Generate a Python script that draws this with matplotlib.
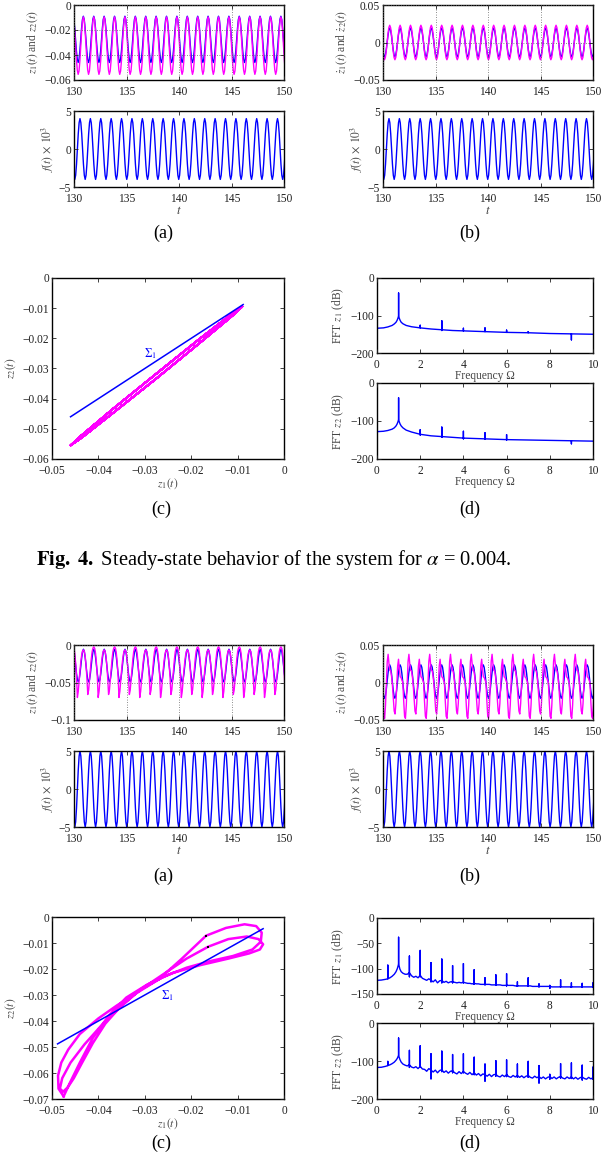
import numpy as np
import matplotlib
matplotlib.use('Agg')
import matplotlib.pyplot as plt
from matplotlib.ticker import FixedLocator, FixedFormatter

plt.rcParams['font.family'] = ['Liberation Serif', 'DejaVu Serif']
plt.rcParams['mathtext.fontset'] = 'stix'

# ---------------- data: time series (one period of samples) -------------
PERIOD = 0.99
T_RANGE = [130, 150]
T_TICKS = [130, 135, 140, 145, 150]

# Fig 4
f4_start = 129.58
f4_vals = [4.0, 3.46, 2.0, 0.0, -2.0, -3.46, -4.0, -3.46, -2.0, 0.0, 2.0, 3.46]
z1_4_start = 129.90
z1_4_vals = [-0.0090, -0.0115, -0.0183, -0.0275, -0.0368, -0.0435,
             -0.0460, -0.0435, -0.0368, -0.0275, -0.0183, -0.0115]
z2_4_vals = [-0.00951, -0.01219, -0.02031, -0.03170, -0.04330, -0.05200,
             -0.05549, -0.05281, -0.04469, -0.03330, -0.02170, -0.01300]
v_4_start = 129.65
v1_4_vals = [0.019, 0.01645, 0.0095, 0.0, -0.0095, -0.01645,
             -0.019, -0.01645, -0.0095, 0.0, 0.0095, 0.01645]
v2_4_vals = [0.023, 0.0199, 0.0115, 0.0, -0.0115, -0.0199,
             -0.023, -0.0199, -0.0115, 0.0, 0.0115, 0.0199]

# Fig 5
f5_start = 129.58
f5_vals = [5.0, 4.33, 2.5, 0.0, -2.5, -4.33, -5.0, -4.33, -2.5, 0.0, 2.5, 4.33]
z1_5_start = 129.91
z1_5_vals = [-0.0057, -0.0086, -0.0166, -0.0274, -0.0383, -0.0462,
             -0.0491, -0.0462, -0.0383, -0.0274, -0.0166, -0.0086]
z2_5_start = 129.91   # two forcing periods
z2_5_vals = [-0.0025, -0.0045, -0.0115, -0.0240, -0.0420, -0.0700,
             -0.0620, -0.0480, -0.0340, -0.0220, -0.0130, -0.0080,
             -0.0065, -0.0085, -0.0150, -0.0270, -0.0440, -0.0660,
             -0.0600, -0.0460, -0.0320, -0.0190, -0.0090, -0.0040]
v1_5_start = 129.65
v1_5_vals = [0.0235, 0.0204, 0.0123, 0.0012, -0.0099, -0.0180,
             -0.0210, -0.0180, -0.0099, 0.0012, 0.0123, 0.0204]
v2_5_start = 129.91
v2_5_vals = [0.000, -0.025, -0.045, -0.0478, -0.030, -0.002,
             0.028, 0.0376, 0.025, 0.0160, 0.0155, 0.0080,
             -0.004, -0.022, -0.038, -0.042, -0.028, -0.004,
             0.022, 0.031, 0.018, 0.0075, 0.0066, 0.003]

# Fig 5 (c) phase trajectory
z1_c5 = [-0.0475, -0.0486, -0.0487, -0.0480, -0.0465, -0.0440, -0.0400, -0.0360,
         -0.0320, -0.0270, -0.0220, -0.0168, -0.0125, -0.0085, -0.0060, -0.0048,
         -0.0050, -0.0068, -0.0110, -0.0160, -0.0210, -0.0260, -0.0310, -0.0350,
         -0.0385, -0.0412, -0.0435, -0.0453, -0.0466, -0.0476, -0.0483, -0.0478,
         -0.0460, -0.0430, -0.0395, -0.0355, -0.0310, -0.0260, -0.0210, -0.0163,
         -0.0120, -0.0080, -0.0055, -0.0045, -0.0052, -0.0075, -0.0120, -0.0180,
         -0.0240, -0.0295, -0.0340, -0.0378, -0.0412, -0.0440, -0.0462, -0.0475]
z2_c5 = [-0.0690, -0.0660, -0.0610, -0.0560, -0.0510, -0.0450, -0.0390, -0.0340,
         -0.0295, -0.0240, -0.0160, -0.0072, -0.0042, -0.0028, -0.0035, -0.0060,
         -0.0095, -0.0125, -0.0150, -0.0170, -0.0195, -0.0230, -0.0280, -0.0340,
         -0.0410, -0.0485, -0.0560, -0.0620, -0.0655, -0.0672, -0.0660, -0.0620,
         -0.0560, -0.0490, -0.0420, -0.0350, -0.0280, -0.0220, -0.0160, -0.0114,
         -0.0085, -0.0075, -0.0085, -0.0105, -0.0125, -0.0140, -0.0160, -0.0185,
         -0.0215, -0.0260, -0.0310, -0.0380, -0.0465, -0.0560, -0.0640, -0.0690]
dots_c5_z1 = [-0.0168, -0.0163]
dots_c5_z2 = [-0.0072, -0.0114]

sigma4_line = [-0.0460, -0.0088]
sigma5_line = [-0.0488, -0.0045]

# ---------------- data: FFT spectra ----------------
fft4_w = [0, 0.3, 0.5, 0.7, 0.8, 0.88, 0.93, 0.97, 1.0, 1.03, 1.07, 1.12, 1.2, 1.35,
          1.6, 2, 2.5, 3, 3.5, 4, 5, 6, 7, 8, 9, 10]
fft4_z1 = [-134, -133, -130.5, -126.5, -122.5, -118, -113, -107, -101, -107, -113, -118,
           -122, -126.5, -130, -133, -136, -138, -140, -141, -143, -145, -146, -148, -149, -150]
fft4_z1_spk_w = [0, 1, 2, 3, 4, 5, 6, 7, 9]
fft4_z1_spk_top = [-33, -40, -126, -114, -134, -133, -139, -143, -149]
fft4_z1_spk_bot = [-134, -101, -133, -140, -141, -143, -145, -146, -165]
fft4_z2 = [-128, -127, -125, -121.5, -118, -113, -108, -102, -96, -102, -108, -113,
           -118, -124, -129, -135, -139, -141, -143, -145, -147, -149, -150, -151, -152, -153]
fft4_z2_spk_w = [1, 2, 3, 4, 5, 6, 9]
fft4_z2_spk_top = [-39, -123, -116, -127, -131, -136, -152]
fft4_z2_spk_bot = [-96, -137, -143, -147, -148, -150, -160]

fft5_w_low = [0, 0.2, 0.4, 0.5, 0.6, 0.7, 0.8, 0.88, 0.94, 0.98, 1.0, 1.02, 1.06, 1.12, 1.2, 1.3]
fft5_z1_low = [-123, -122.5, -121, -120, -118, -115, -111, -106, -100, -94, -90, -94,
               -101, -106, -109, -111]
fft5_z2_low = [-117, -116.5, -114, -112, -110, -107, -103, -98, -93, -88, -85, -89,
               -96, -103, -108, -111]
fft5_w_hi_start, fft5_w_hi_step = 1.4, 0.1
fft5_z1_hi = [-111, -108, -114, -117, -115, -118,
              -113, -119, -121, -123, -120, -123, -126, -122, -128, -124,
              -123, -127, -125, -128, -126, -126, -127, -128, -127, -128,
              -127, -128, -129, -129, -130, -129, -130, -130, -131, -131,
              -131, -131, -131, -132, -132, -132, -132, -132, -133, -133,
              -133, -133, -133, -133, -134, -134, -134, -134, -134, -134,
              -134, -134, -135, -135, -135, -135, -135, -135, -135, -135,
              -135, -136, -136, -136, -136, -136, -136, -136, -136, -136,
              -136, -136, -136, -136, -136, -136, -136, -136, -136, -136,
              -136]
fft5_z2_hi = [-113, -110, -116, -118, -115, -120,
              -114, -121, -122, -127, -120, -124, -129, -124, -131, -125,
              -123, -130, -126, -132, -127, -126, -131, -134, -128, -133,
              -128, -132, -135, -130, -136, -131, -137, -133, -139, -134,
              -136, -140, -135, -141, -136, -135, -140, -142, -137, -141,
              -136, -141, -143, -138, -142, -138, -143, -139, -144, -140,
              -138, -143, -145, -140, -144, -141, -146, -142, -147, -143,
              -141, -146, -142, -147, -143, -141, -145, -147, -142, -146,
              -142, -147, -143, -148, -144, -142, -146, -148, -143, -147,
              -144]
fft5_z1_spk_w = [0, 0.5, 1.0, 1.5, 2.0, 2.5, 3.0, 3.5, 4.0, 4.5, 5.0, 5.5, 6.0, 6.5, 7.0,
                 7.5, 8.0, 8.5, 9.0, 9.5, 10.0]
fft5_z1_spk_top = [-30, -93, -38, -75, -64, -88, -81, -94, -90, -102, -118, -112, -110,
                   -126, -118, -130, -133, -122, -128, -129, -128]
fft5_z1_spk_bot = [-123, -120, -90, -116, -116, -126, -128, -128, -128, -131, -132, -133,
                   -134, -135, -135, -136, -139, -136, -137, -137, -136]
fft5_z2_spk_w = [0.5, 1.0, 1.5, 2.0, 2.5, 3.0, 3.5, 4.0, 4.5, 5.0, 5.5, 6.0, 6.5, 7.0,
                 7.5, 8.0, 8.5, 9.0, 9.5, 10.0]
fft5_z2_spk_top = [-101, -39.5, -72, -60, -81, -74, -83, -81, -90, -108, -99, -97, -108,
                   -101, -112, -135, -107, -105, -111, -116]
fft5_z2_spk_bot = [-112, -85, -117, -116, -147, -128, -131, -131, -136, -153, -140, -141,
                   -143, -143, -158, -148, -145, -146, -150, -148]

# ---------------- helpers ----------------
W, H = 605, 1162
fig = plt.figure(figsize=(W / 100, H / 100), dpi=100)

BLUE = '#0000ff'
MAG = '#ff00ff'
LBL = '#444444'
TICK_FS = 8.3
LAB_FS = 8.3


def ax_px(x0, x1, y0, y1):
    return fig.add_axes([x0 / W, 1 - y1 / H, (x1 - x0) / W, (y1 - y0) / H])


def periodic(start, vals, step, t_end=150.6):
    n = int(np.ceil((t_end - start) / step)) + 1
    reps = n // len(vals) + 1
    t = start + step * np.arange(n)
    return t, np.tile(np.asarray(vals, float), reps)[:n]


def fmt(v):
    s = ('%g' % v)
    return s.replace('-', '\u2212')


def style(ax, xlim, ylim, xt, yt, grid=False):
    ax.set_xlim(*xlim)
    ax.set_ylim(*ylim)
    ax.xaxis.set_major_locator(FixedLocator(xt))
    ax.xaxis.set_major_formatter(FixedFormatter([fmt(v) for v in xt]))
    ax.yaxis.set_major_locator(FixedLocator(yt))
    ax.yaxis.set_major_formatter(FixedFormatter([fmt(v) for v in yt]))
    ax.tick_params(direction='in', top=True, right=True, length=3, width=0.6,
                   labelsize=TICK_FS, colors='#222222')
    ax.tick_params(axis='x', pad=4.2)
    ax.tick_params(axis='y', pad=2)
    for s in ax.spines.values():
        s.set_linewidth(1.0)
    if grid:
        ax.grid(True, linestyle=(0, (1, 2)), color='#666666', linewidth=0.6)
    ax.set_axisbelow(False)


def fft_line(w, db, sw, stop, sbot):
    spikes = {round(a, 3): (b, c) for a, b, c in zip(sw, stop, sbot)}
    xs, ys = [], []
    for a, b in zip(w, db):
        xs.append(a)
        ys.append(b)
        k = round(a, 3)
        if k in spikes:
            tp, bt = spikes[k]
            xs += [a, a, a]
            ys += [tp, bt, b]
    return xs, ys


def panel_time(x0, x1, ytop, z_series, f_series, ylim_z, yt_z, ylab_z, ylim_f, yt_f):
    a1 = ax_px(x0, x1, ytop, ytop + 75)
    for (t, v, c) in z_series:
        a1.plot(t, v, color=c, lw=1.0)
    style(a1, T_RANGE, ylim_z, T_TICKS, yt_z, grid=True)
    a1.set_ylabel(ylab_z, fontsize=LAB_FS, color=LBL, labelpad=3)
    a2 = ax_px(x0, x1, ytop + 106, ytop + 182)
    t, v = f_series
    a2.plot(t, v, color=BLUE, lw=1.0)
    style(a2, T_RANGE, ylim_f, T_TICKS, yt_f)
    a2.set_ylabel(r'$f(t)\,\times\,10^3$', fontsize=LAB_FS, color=LBL, labelpad=3)
    a2.set_xlabel(r'$t$', fontsize=LAB_FS + 1, color=LBL, labelpad=0)
    return a1, a2


step12 = PERIOD / 12

# ================= Fig. 4 =================
t_f4, f4 = periodic(f4_start, f4_vals, step12)
t_z4, z1_4 = periodic(z1_4_start, z1_4_vals, step12)
_, z2_4 = periodic(z1_4_start, z2_4_vals, step12)
t_v4, v1_4 = periodic(v_4_start, v1_4_vals, step12)
_, v2_4 = periodic(v_4_start, v2_4_vals, step12)

panel_time(74, 284, 5, [(t_z4, z1_4, BLUE), (t_z4, z2_4, MAG)], (t_f4, f4),
           (-0.06, 0), [-0.06, -0.04, -0.02, 0], r'$z_1(t)$ and $z_2(t)$',
           (-5, 5), [-5, 0, 5])
panel_time(383, 593, 5, [(t_v4, v1_4, BLUE), (t_v4, v2_4, MAG)], (t_f4, f4),
           (-0.05, 0.05), [-0.05, 0, 0.05], r'$\dot{z}_1(t)$ and $\dot{z}_2(t)$',
           (-5, 5), [-5, 0, 5])

# (c) phase portrait
ac = ax_px(52, 284, 278, 459)
ac.plot(z1_4, z2_4, color=MAG, lw=1.3)
ac.plot(sigma4_line, sigma4_line, color=BLUE, lw=1.1)
ac.text(-0.0288, -0.0250, r'$\Sigma_1$', color=BLUE, fontsize=8.5, ha='center', va='center')
style(ac, (-0.05, 0), (-0.06, 0), [-0.05, -0.04, -0.03, -0.02, -0.01, 0],
      [-0.06, -0.05, -0.04, -0.03, -0.02, -0.01, 0])
ac.set_xlabel(r'$z_1(t)$', fontsize=LAB_FS, color=LBL, labelpad=0)
ac.set_ylabel(r'$z_2(t)$', fontsize=LAB_FS, color=LBL, labelpad=3)

# (d) FFT
ad1 = ax_px(377, 593, 278, 353)
xs, ys = fft_line(fft4_w, fft4_z1, fft4_z1_spk_w, fft4_z1_spk_top, fft4_z1_spk_bot)
ad1.plot(xs, ys, color=BLUE, lw=1.0)
style(ad1, (0, 10), (-200, 0), [0, 2, 4, 6, 8, 10], [-200, -100, 0])
ad1.set_ylabel(r'FFT $z_1$ (dB)', fontsize=LAB_FS, color=LBL, labelpad=3)
ad1.set_xlabel('Frequency \u03a9', fontsize=LAB_FS, color=LBL, labelpad=-0.5)

ad2 = ax_px(377, 593, 383, 459)
xs, ys = fft_line(fft4_w, fft4_z2, fft4_z2_spk_w, fft4_z2_spk_top, fft4_z2_spk_bot)
ad2.plot(xs, ys, color=BLUE, lw=1.0)
style(ad2, (0, 10), (-200, 0), [0, 2, 4, 6, 8, 10], [-200, -100, 0])
ad2.set_ylabel(r'FFT $z_2$ (dB)', fontsize=LAB_FS, color=LBL, labelpad=3)
ad2.set_xlabel('Frequency \u03a9', fontsize=LAB_FS, color=LBL, labelpad=-0.5)

for s, (x, y) in zip(['(a)', '(b)', '(c)', '(d)'],
                     [(163, 233), (470, 233), (161, 509), (470, 509)]):
    fig.text(x / W, 1 - y / H, s, fontsize=13, ha='center', va='center')

fig.text(36 / W, 1 - 560 / H,
         r'$\mathbf{Fig.\ 4.}$ Steady-state behavior of the system for $\alpha$ = 0.004.',
         fontsize=14.8, ha='left', va='center')

# ================= Fig. 5 =================
t_f5, f5 = periodic(f5_start, f5_vals, step12)
t_z15, z1_5 = periodic(z1_5_start, z1_5_vals, step12)
t_z25, z2_5 = periodic(z2_5_start, z2_5_vals, step12)
t_v15, v1_5 = periodic(v1_5_start, v1_5_vals, step12)
t_v25, v2_5 = periodic(v2_5_start, v2_5_vals, step12)

panel_time(74, 284, 645, [(t_z15, z1_5, BLUE), (t_z25, z2_5, MAG)], (t_f5, f5),
           (-0.1, 0), [-0.1, -0.05, 0], r'$z_1(t)$ and $z_2(t)$',
           (-5, 5), [-5, 0, 5])
panel_time(383, 593, 645, [(t_v15, v1_5, BLUE), (t_v25, v2_5, MAG)], (t_f5, f5),
           (-0.05, 0.05), [-0.05, 0, 0.05], r'$\dot{z}_1(t)$ and $\dot{z}_2(t)$',
           (-5, 5), [-5, 0, 5])

ac5 = ax_px(52, 284, 917, 1099)
ac5.plot(z1_c5, z2_c5, color=MAG, lw=1.8)
ac5.plot(sigma5_line, sigma5_line, color=BLUE, lw=1.1)
ac5.plot(dots_c5_z1, dots_c5_z2, 's', color='black', ms=1.5, mew=0)
ac5.text(-0.0252, -0.0303, r'$\Sigma_1$', color=BLUE, fontsize=8.5, ha='center', va='center')
style(ac5, (-0.05, 0), (-0.07, 0), [-0.05, -0.04, -0.03, -0.02, -0.01, 0],
      [-0.07, -0.06, -0.05, -0.04, -0.03, -0.02, -0.01, 0])
ac5.set_xlabel(r'$z_1(t)$', fontsize=LAB_FS, color=LBL, labelpad=0)
ac5.set_ylabel(r'$z_2(t)$', fontsize=LAB_FS, color=LBL, labelpad=3)

w_hi = np.round(fft5_w_hi_start + fft5_w_hi_step * np.arange(len(fft5_z1_hi)), 2)
w5 = list(fft5_w_low) + list(w_hi)

ad51 = ax_px(377, 593, 918, 994)
xs, ys = fft_line(w5, fft5_z1_low + fft5_z1_hi, fft5_z1_spk_w, fft5_z1_spk_top, fft5_z1_spk_bot)
ad51.plot(xs, ys, color=BLUE, lw=1.0)
style(ad51, (0, 10), (-150, 0), [0, 2, 4, 6, 8, 10], [-150, -100, -50, 0])
ad51.set_ylabel(r'FFT $z_1$ (dB)', fontsize=LAB_FS, color=LBL, labelpad=3)
ad51.set_xlabel('Frequency \u03a9', fontsize=LAB_FS, color=LBL, labelpad=-0.5)

ad52 = ax_px(377, 593, 1023, 1099)
xs, ys = fft_line(w5, fft5_z2_low + fft5_z2_hi, fft5_z2_spk_w, fft5_z2_spk_top, fft5_z2_spk_bot)
ad52.plot(xs, ys, color=BLUE, lw=1.0)
style(ad52, (0, 10), (-200, 0), [0, 2, 4, 6, 8, 10], [-200, -100, 0])
ad52.set_ylabel(r'FFT $z_2$ (dB)', fontsize=LAB_FS, color=LBL, labelpad=3)
ad52.set_xlabel('Frequency \u03a9', fontsize=LAB_FS, color=LBL, labelpad=-0.5)

for s, (x, y) in zip(['(a)', '(b)', '(c)', '(d)'],
                     [(163, 876), (470, 876), (161, 1143), (470, 1143)]):
    fig.text(x / W, 1 - y / H, s, fontsize=13, ha='center', va='center')

fig.savefig('out.png', dpi=100)
